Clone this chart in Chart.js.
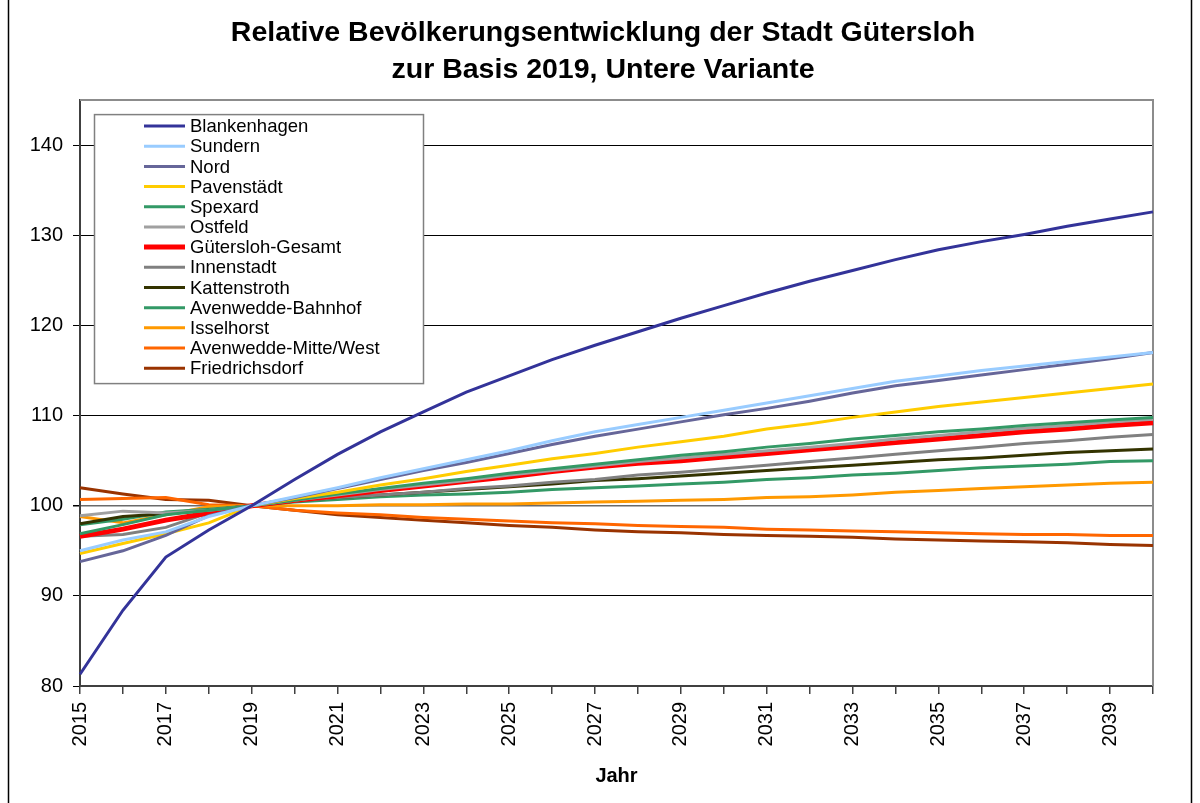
<!DOCTYPE html>
<html>
<head>
<meta charset="utf-8">
<script src="https://cdn.jsdelivr.net/npm/chart.js@4"></script>
<style>
  body { margin: 0; background: #fff; }
  canvas { display: block; }
</style>
</head>
<body>
<canvas id="popChart" width="1200" height="803"></canvas>
<script>
const years = ['2015', '2016', '2017', '2018', '2019', '2020', '2021', '2022', '2023', '2024', '2025', '2026', '2027',
  '2028', '2029', '2030', '2031', '2032', '2033', '2034', '2035', '2036', '2037', '2038', '2039', '2040'];

const blankenhagen = [81.3, 88.4, 94.3, 97.3, 100, 102.9, 105.7, 108.2, 110.4, 112.6, 114.4, 116.2, 117.8,
  119.3, 120.8, 122.2, 123.6, 124.9, 126.1, 127.3, 128.4, 129.3, 130.1, 131.0, 131.8, 132.6];
const sundern = [95.0, 96.2, 97.1, 98.8, 100, 101.0, 102.0, 103.1, 104.1, 105.1, 106.1, 107.2, 108.2,
  109.0, 109.8, 110.6, 111.4, 112.2, 113.0, 113.8, 114.4, 115.0, 115.5, 116.0, 116.5, 117.0];
const nord = [93.8, 95.0, 96.7, 98.9, 100, 100.9, 101.9, 102.9, 103.9, 104.8, 105.8, 106.8, 107.7,
  108.5, 109.3, 110.1, 110.8, 111.6, 112.5, 113.3, 113.9, 114.5, 115.1, 115.7, 116.3, 117.0];
const pavenstaedt = [94.7, 95.8, 96.9, 98.1, 100, 100.8, 101.5, 102.3, 103.0, 103.8, 104.5, 105.2, 105.8,
  106.5, 107.1, 107.7, 108.5, 109.1, 109.8, 110.4, 111.0, 111.5, 112.0, 112.5, 113.0, 113.5];
const spexard = [96.9, 97.9, 99.0, 99.5, 100, 100.6, 101.3, 101.9, 102.5, 103.0, 103.6, 104.1, 104.6,
  105.1, 105.6, 106.0, 106.5, 106.9, 107.4, 107.8, 108.2, 108.5, 108.9, 109.2, 109.5, 109.8];
const ostfeld = [98.9, 99.4, 99.2, 99.5, 100, 100.6, 101.2, 101.8, 102.3, 102.8, 103.4, 103.9, 104.4,
  104.9, 105.3, 105.7, 106.1, 106.5, 106.9, 107.4, 107.8, 108.2, 108.6, 108.9, 109.3, 109.6];
const guetersloh = [96.6, 97.4, 98.4, 99.2, 100, 100.6, 101.1, 101.7, 102.2, 102.7, 103.2, 103.8, 104.3,
  104.7, 105.0, 105.4, 105.8, 106.2, 106.6, 107.0, 107.4, 107.8, 108.2, 108.5, 108.9, 109.2];
const innenstadt = [96.6, 96.8, 97.6, 99.2, 100, 100.5, 100.9, 101.2, 101.5, 101.9, 102.2, 102.6, 102.9,
  103.4, 103.7, 104.1, 104.5, 104.9, 105.3, 105.7, 106.1, 106.5, 106.9, 107.2, 107.6, 107.9];
const kattenstroth = [98.0, 98.8, 99.1, 99.5, 100, 100.5, 100.9, 101.2, 101.5, 101.8, 102.1, 102.4, 102.8,
  103.0, 103.3, 103.6, 103.9, 104.2, 104.5, 104.8, 105.1, 105.3, 105.6, 105.9, 106.1, 106.3];
const avenwBahnhof = [97.9, 98.5, 99.3, 99.6, 100, 100.4, 100.7, 101.0, 101.2, 101.3, 101.5, 101.8, 102.0,
  102.2, 102.4, 102.6, 102.9, 103.1, 103.4, 103.6, 103.9, 104.2, 104.4, 104.6, 104.9, 105.0];
const isselhorst = [98.8, 98.1, 99.0, 99.9, 100, 100.0, 100.0, 100.1, 100.1, 100.2, 100.2, 100.3, 100.4,
  100.5, 100.6, 100.7, 100.9, 101.0, 101.2, 101.5, 101.7, 101.9, 102.1, 102.3, 102.5, 102.6];
const avenwMitteWest = [100.7, 100.8, 100.9, 100.1, 100, 99.5, 99.2, 99.0, 98.7, 98.5, 98.3, 98.1, 98.0,
  97.8, 97.7, 97.6, 97.4, 97.3, 97.2, 97.1, 97.0, 96.9, 96.8, 96.8, 96.7, 96.7];
const friedrichsdorf = [102.0, 101.3, 100.7, 100.6, 100, 99.5, 99.0, 98.7, 98.4, 98.1, 97.8, 97.6, 97.3,
  97.1, 97.0, 96.8, 96.7, 96.6, 96.5, 96.3, 96.2, 96.1, 96.0, 95.9, 95.7, 95.6];

const yTicks = [80, 90, 100, 110, 120, 130, 140];

const FONT = "'Liberation Sans', Arial, sans-serif";

function series(label, data, color, width) {
  return {
    label: label,
    data: data,
    borderColor: color,
    backgroundColor: color,
    borderWidth: width || 3,
    pointRadius: 0,
    tension: 0,
    fill: false
  };
}

// legend box drawn inside the plot area, top-left
const boxLegend = {
  id: 'boxLegend',
  afterDatasetsDraw(chart) {
    const ctx = chart.ctx;
    const area = chart.chartArea;
    const x = area.left + 14, y = area.top + 14;
    const w = 329, h = 269;
    ctx.save();
    ctx.fillStyle = '#fff';
    ctx.fillRect(x, y, w, h);
    ctx.strokeStyle = '#808080';
    ctx.lineWidth = 1.5;
    ctx.strokeRect(x + 0.5, y + 0.5, w, h);
    ctx.font = '18.5px ' + FONT;
    ctx.textBaseline = 'middle';
    ctx.fillStyle = '#000';
    chart.data.datasets.forEach((ds, i) => {
      const cy = y + 12 + i * 20.17;
      ctx.strokeStyle = ds.borderColor;
      ctx.lineWidth = ds.borderWidth;
      ctx.beginPath();
      ctx.moveTo(x + 50, cy);
      ctx.lineTo(x + 91, cy);
      ctx.stroke();
      ctx.fillText(ds.label, x + 96, cy + 1);
    });
    ctx.restore();
  }
};

// plot frame and outer chart frame
const frames = {
  id: 'frames',
  beforeDatasetsDraw(chart) {
    const ctx = chart.ctx;
    const a = chart.chartArea;
    ctx.save();
    ctx.strokeStyle = '#8c8c8c';
    ctx.lineWidth = 2;
    ctx.beginPath();
    ctx.moveTo(a.left, a.top);
    ctx.lineTo(a.right, a.top);
    ctx.lineTo(a.right, a.bottom);
    ctx.stroke();
    ctx.restore();
  },
  afterDraw(chart) {
    const ctx = chart.ctx;
    ctx.save();
    ctx.strokeStyle = '#000';
    ctx.lineWidth = 1.5;
    ctx.beginPath();
    ctx.moveTo(8.5, 0);
    ctx.lineTo(8.5, chart.height);
    ctx.moveTo(1191.5, 0);
    ctx.lineTo(1191.5, chart.height);
    ctx.stroke();
    ctx.restore();
  }
};

const ctxPop = document.getElementById('popChart').getContext('2d');
const popChart = new Chart(ctxPop, {
  type: 'line',
  data: {
    labels: years,
    datasets: [
      series('Blankenhagen', blankenhagen, '#333399'),
      series('Sundern', sundern, '#99CCFF'),
      series('Nord', nord, '#666699'),
      series('Pavenstädt', pavenstaedt, '#FFCC00'),
      series('Spexard', spexard, '#339966'),
      series('Ostfeld', ostfeld, '#A0A0A0'),
      series('Gütersloh-Gesamt', guetersloh, '#FF0000', 5),
      series('Innenstadt', innenstadt, '#808080'),
      series('Kattenstroth', kattenstroth, '#333300'),
      series('Avenwedde-Bahnhof', avenwBahnhof, '#339966'),
      series('Isselhorst', isselhorst, '#FF9900'),
      series('Avenwedde-Mitte/West', avenwMitteWest, '#FF6600'),
      series('Friedrichsdorf', friedrichsdorf, '#993300')
    ]
  },
  options: {
    responsive: false,
    animation: false,
    devicePixelRatio: 1,
    layout: { padding: { left: 6, right: 0, top: 0, bottom: 0 } },
    scales: {
      x: {
        offset: false,
        grid: { drawOnChartArea: false, drawTicks: true, tickLength: 8, color: '#404040', lineWidth: 1.5 },
        border: { color: '#404040', width: 2 },
        ticks: {
          autoSkip: false,
          minRotation: 90,
          maxRotation: 90,
          padding: 8,
          color: '#000',
          font: { family: FONT, size: 20 },
          callback: function (v, i) { return i % 2 === 0 ? years[i] : ''; }
        },
        title: {
          display: true,
          text: 'Jahr',
          color: '#000',
          font: { family: FONT, size: 20, weight: 'bold' },
          padding: { top: 0, bottom: 15 }
        },
        afterFit: s => { s.height = 117; s.paddingRight = 47; }
      },
      y: {
        min: yTicks[0],
        max: 145,
        grid: {
          color: c => (c.tick && c.tick.value === 100 ? '#6a6a6a' : '#000'),
          lineWidth: c => (c.tick && c.tick.value === 100 ? 1.5 : 1),
          tickLength: 7,
          tickColor: '#000'
        },
        border: { color: '#404040', width: 2 },
        ticks: {
          stepSize: 10,
          includeBounds: false,
          padding: 10,
          color: '#000',
          font: { family: FONT, size: 20 }
        },
        afterBuildTicks: s => { s.ticks = yTicks.map(v => ({ value: v })); },
        afterFit: s => { s.width = 74; }
      }
    },
    plugins: {
      legend: { display: false },
      tooltip: { enabled: false },
      title: {
        display: true,
        text: ['Relative Bevölkerungsentwicklung der Stadt Gütersloh', 'zur Basis 2019, Untere Variante'],
        color: '#000',
        font: { family: FONT, size: 28.5, weight: 'bold', lineHeight: 1.3 },
        padding: { top: 15, bottom: 11 }
      }
    }
  },
  plugins: [frames, boxLegend]
});
</script>
</body>
</html>
